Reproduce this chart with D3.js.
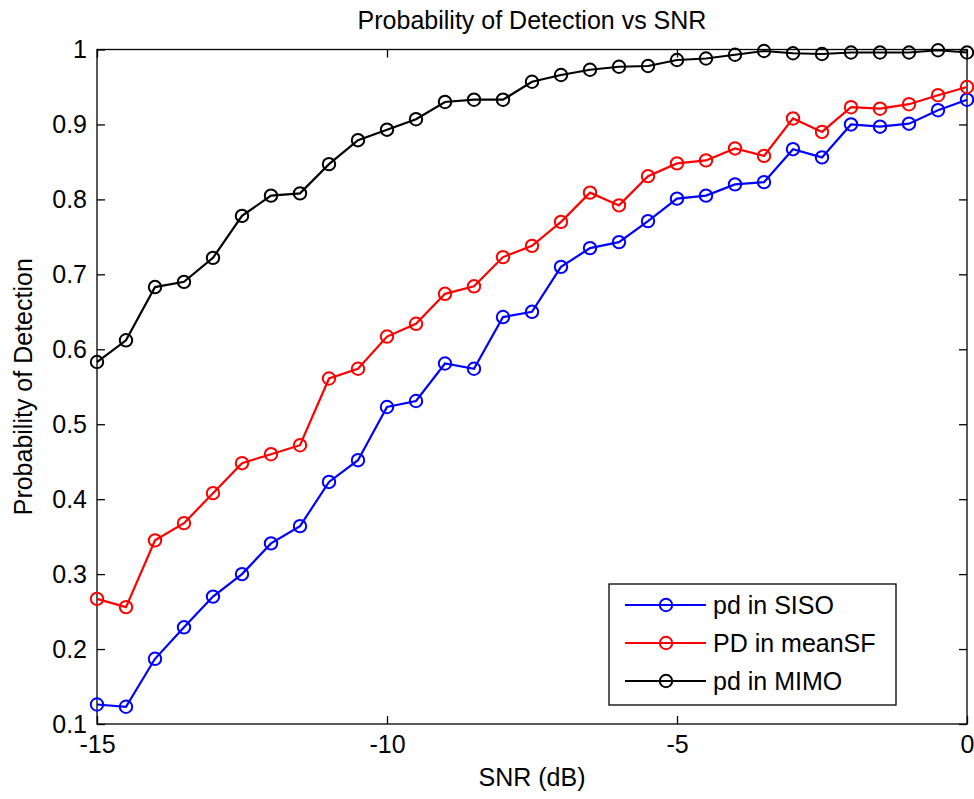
<!DOCTYPE html>
<html><head><meta charset="utf-8">
<script src="https://cdn.jsdelivr.net/npm/d3@7"></script>
<style>body{margin:0;background:#fff}svg{display:block}text{font-family:"Liberation Sans",Arial,sans-serif;fill:#000}</style>
</head><body><svg id="c" width="974" height="799"></svg>
<script>
const snr = [-15,-14.5,-14,-13.5,-13,-12.5,-12,-11.5,-11,-10.5,-10,-9.5,-9,-8.5,-8,-7.5,-7,-6.5,-6,-5.5,-5,-4.5,-4,-3.5,-3,-2.5,-2,-1.5,-1,-0.5,0];
const pdSISO = [0.126,0.123,0.187,0.229,0.270,0.300,0.341,0.364,0.423,0.452,0.523,0.531,0.581,0.574,0.643,0.650,0.710,0.735,0.743,0.771,0.801,0.805,0.820,0.823,0.867,0.856,0.900,0.897,0.901,0.919,0.933];
const pdMeanSF = [0.267,0.256,0.345,0.368,0.408,0.448,0.460,0.472,0.561,0.574,0.617,0.634,0.674,0.684,0.723,0.738,0.770,0.809,0.792,0.831,0.848,0.852,0.868,0.858,0.908,0.890,0.923,0.921,0.927,0.939,0.950];
const pdMIMO = [0.583,0.612,0.683,0.690,0.722,0.778,0.805,0.808,0.847,0.879,0.893,0.907,0.930,0.933,0.933,0.957,0.966,0.973,0.977,0.978,0.986,0.988,0.993,0.998,0.995,0.994,0.996,0.996,0.996,0.999,0.996];
const seriesNames = ["pd in SISO","PD in meanSF","pd in MIMO"];
const seriesColors = ["#0000ff","#ff0000","#000000"];
const xTicks = [-15,-10,-5,0];
const yTicks = [0.1,0.2,0.3,0.4,0.5,0.6,0.7,0.8,0.9,1];

const svg = d3.select("#c");
const L=97, R=967, T=49.5, B=724;
const x = d3.scaleLinear().domain([-15,0]).range([L,R]);
const y = d3.scaleLinear().domain([0.1,1]).range([B,T]);
const fs = 25;

// box
svg.append("rect").attr("x",L).attr("y",T).attr("width",R-L).attr("height",B-T)
  .attr("fill","none").attr("stroke","#000").attr("stroke-width",1.3);

// axes with inward ticks
const xb = svg.append("g").attr("transform",`translate(0,${B})`)
  .call(d3.axisBottom(x).tickValues(xTicks).tickSizeInner(-8).tickSizeOuter(0).tickPadding(11).tickFormat(d=>d));
const xt = svg.append("g").attr("transform",`translate(0,${T})`)
  .call(d3.axisTop(x).tickValues(xTicks).tickSizeInner(-8).tickSizeOuter(0).tickFormat(""));
const yl = svg.append("g").attr("transform",`translate(${L},0)`)
  .call(d3.axisLeft(y).tickValues(yTicks).tickSizeInner(-8).tickSizeOuter(0).tickPadding(10).tickFormat(d=>d===1?"1":d3.format(".1f")(d)));
const yr = svg.append("g").attr("transform",`translate(${R},0)`)
  .call(d3.axisRight(y).tickValues(yTicks).tickSizeInner(-8).tickSizeOuter(0).tickFormat(""));
[xb,xt,yl,yr].forEach(g=>{
  g.select(".domain").remove();
  g.selectAll("line").attr("stroke","#000").attr("stroke-width",1.3);
  g.selectAll("text").attr("font-size",fs).attr("font-family","Liberation Sans, Arial, sans-serif").attr("fill","#333");
});

const data = [pdSISO,pdMeanSF,pdMIMO];
const line = d3.line().x((d,i)=>x(snr[i])).y(d=>y(d));
data.forEach((vals,k)=>{
  const g = svg.append("g");
  g.append("path").datum(vals).attr("d",line).attr("fill","none")
    .attr("stroke",seriesColors[k]).attr("stroke-width",2.2);
  g.selectAll("circle").data(vals).join("circle")
    .attr("cx",(d,i)=>x(snr[i])).attr("cy",d=>y(d)).attr("r",6.2)
    .attr("fill","none").attr("stroke",seriesColors[k]).attr("stroke-width",2);
});

// title & labels
svg.append("text").attr("x",(L+R)/2).attr("y",29).attr("text-anchor","middle").attr("font-size",fs).attr("fill","#222").text("Probability of Detection vs SNR");
svg.append("text").attr("x",(L+R)/2).attr("y",786).attr("text-anchor","middle").attr("font-size",fs).attr("fill","#222").text("SNR (dB)");
svg.append("text").attr("transform",`translate(32,${(T+B)/2}) rotate(-90)`).attr("text-anchor","middle").attr("font-size",fs).attr("fill","#222").text("Probability of Detection");

// legend
const lg = svg.append("g");
lg.append("rect").attr("x",609).attr("y",584).attr("width",287).attr("height",121)
  .attr("fill","#fff").attr("stroke","#000").attr("stroke-width",1.3);
seriesNames.forEach((n,k)=>{
  const yy = 605 + k*38;
  lg.append("line").attr("x1",625).attr("x2",706).attr("y1",yy).attr("y2",yy)
    .attr("stroke",seriesColors[k]).attr("stroke-width",2.2);
  lg.append("circle").attr("cx",666).attr("cy",yy).attr("r",6.2).attr("fill","none")
    .attr("stroke",seriesColors[k]).attr("stroke-width",2);
  lg.append("text").attr("x",713).attr("y",yy+9).attr("font-size",fs).attr("fill","#222").text(n);
});
</script></body></html>
